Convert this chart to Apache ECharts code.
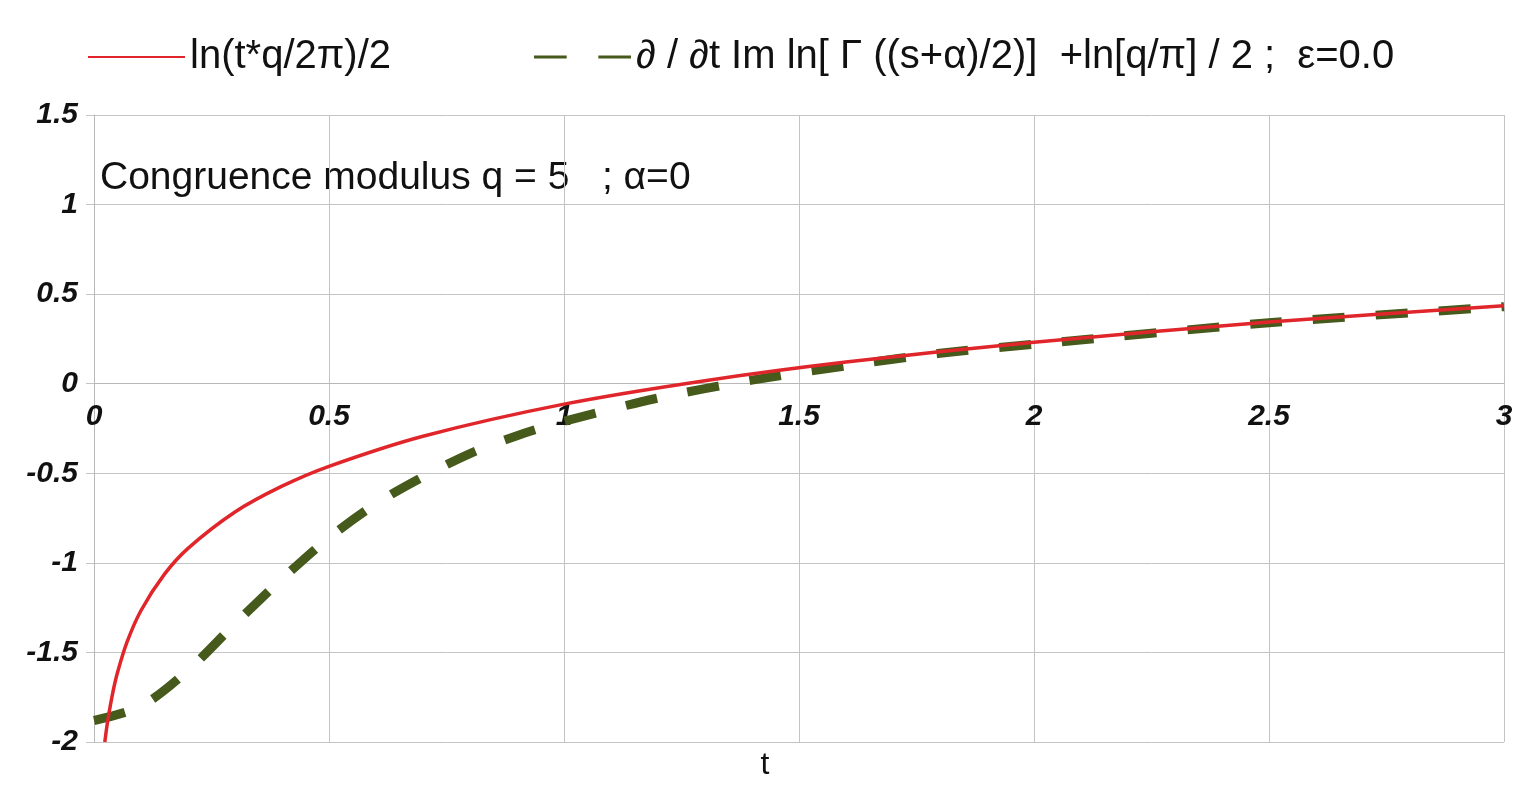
<!DOCTYPE html>
<html>
<head>
<meta charset="utf-8">
<script src="https://cdn.jsdelivr.net/npm/echarts@6/dist/echarts.min.js"></script>
<style>
html,body{margin:0;padding:0;background:#fff;}
#chart{width:1522px;height:787px;}
</style>
</head>
<body>
<div id="chart"></div>
<script>
// ---- data ----
var redName = 'ln(t*q/2\u03c0)/2';
var greenName = '\u2202 / \u2202t Im ln[ \u0393 ((s+\u03b1)/2)]  +ln[q/\u03c0] / 2 ;  \u03b5=0.0';
var annotation = 'Congruence modulus q = 5   ; \u03b1=0';
var xTitle = 't';

var redT = [0.023, 0.025, 0.03, 0.04, 0.05, 0.07, 0.1, 0.15, 0.2, 0.3, 0.4, 0.5, 0.7, 1.0, 1.3, 1.6, 2.0, 2.5, 3.0];
var redV = [-2.0, -1.959, -1.868, -1.724, -1.612, -1.444, -1.266, -1.063, -0.919, -0.716, -0.572, -0.461, -0.293, -0.114, 0.017, 0.121, 0.232, 0.344, 0.435];

var greenT = [0, 0.1, 0.2, 0.3, 0.4, 0.5, 0.6, 0.7, 0.8, 0.9, 1.0, 1.2, 1.4, 1.6, 1.8, 2.0, 2.5, 3.0];
var greenV = [-1.88, -1.80, -1.60, -1.34, -1.09, -0.86, -0.67, -0.52, -0.39, -0.29, -0.21, -0.08, 0.02, 0.10, 0.17, 0.22, 0.34, 0.43];

function pairs(xs, ys) { return xs.map(function (x, i) { return [x, ys[i]]; }); }

var FONT = "'Liberation Sans', Arial, Helvetica, sans-serif";
var GRID_H = 787 - 115 - 45;
var Y_MIN = -2, Y_MAX = 1.5;
var chart = echarts.init(document.getElementById('chart'), null, {renderer: 'canvas'});
chart.setOption({
  backgroundColor: '#ffffff',
  animation: false,
  grid: {left: 94, right: 18, top: 115, bottom: 45, containLabel: false, outerBoundsMode: 'none'},
  legend: {
    left: 83, top: 32,
    itemWidth: 97, itemHeight: 20, itemGap: 143,
    textStyle: {fontSize: 40, fontFamily: FONT, color: '#111'},
    data: [
      {name: redName, icon: 'path://M0,9 L97,9 L97,11 L0,11 Z', itemStyle: {color: '#e0262b'}},
      {name: greenName, icon: 'path://M0,8.5 L32,8.5 L32,11.5 L0,11.5 Z M63,8.5 L95,8.5 L95,11.5 L63,11.5 Z', itemStyle: {color: '#465a1c'}}
    ]
  },
  graphic: [{
    type: 'text', x: 100, y: 178,
    style: {text: annotation, fontSize: 39, fontFamily: FONT, fill: '#111', verticalAlign: 'middle'}
  }, {
    type: 'text', x: 765, y: 765,
    style: {text: xTitle, fontSize: 32, fontFamily: FONT, fill: '#111', align: 'center', verticalAlign: 'middle'}
  }],
  xAxis: {
    type: 'value', min: 0, max: 3, interval: 0.5,
    // place the axis line at y = 0 (shift up from the bottom edge by the -2..0 span)
    offset: -GRID_H * (0 - Y_MIN) / (Y_MAX - Y_MIN),
    axisLine: {show: true, onZero: false, lineStyle: {color: '#b8b8b8', width: 1}},
    axisTick: {show: false},
    axisLabel: {margin: 18, fontSize: 30, fontWeight: 'bold', fontStyle: 'italic', fontFamily: FONT, color: '#111'},
    splitLine: {show: true, lineStyle: {color: '#c4c4c4', width: 1}}
  },
  yAxis: {
    type: 'value', min: Y_MIN, max: Y_MAX, interval: 0.5,
    axisLine: {show: true, lineStyle: {color: '#b8b8b8', width: 1}},
    axisTick: {show: true, length: 8, lineStyle: {color: '#c4c4c4'}},
    axisLabel: {margin: 16, fontSize: 30, fontWeight: 'bold', fontStyle: 'italic', fontFamily: FONT, color: '#111'},
    splitLine: {show: true, lineStyle: {color: '#c4c4c4', width: 1}}
  },
  series: [
    {
      name: greenName, type: 'line', data: pairs(greenT, greenV),
      smooth: 0.3, symbol: 'none', z: 2,
      lineStyle: {color: '#465a1c', width: 9, type: [32, 31], cap: 'butt'},
      itemStyle: {color: '#465a1c'}
    },
    {
      name: redName, type: 'line', data: pairs(redT, redV),
      smooth: 0.3, symbol: 'none', z: 3,
      lineStyle: {color: '#e0262b', width: 3.5},
      itemStyle: {color: '#e0262b'}
    }
  ]
});
</script>
</body>
</html>
